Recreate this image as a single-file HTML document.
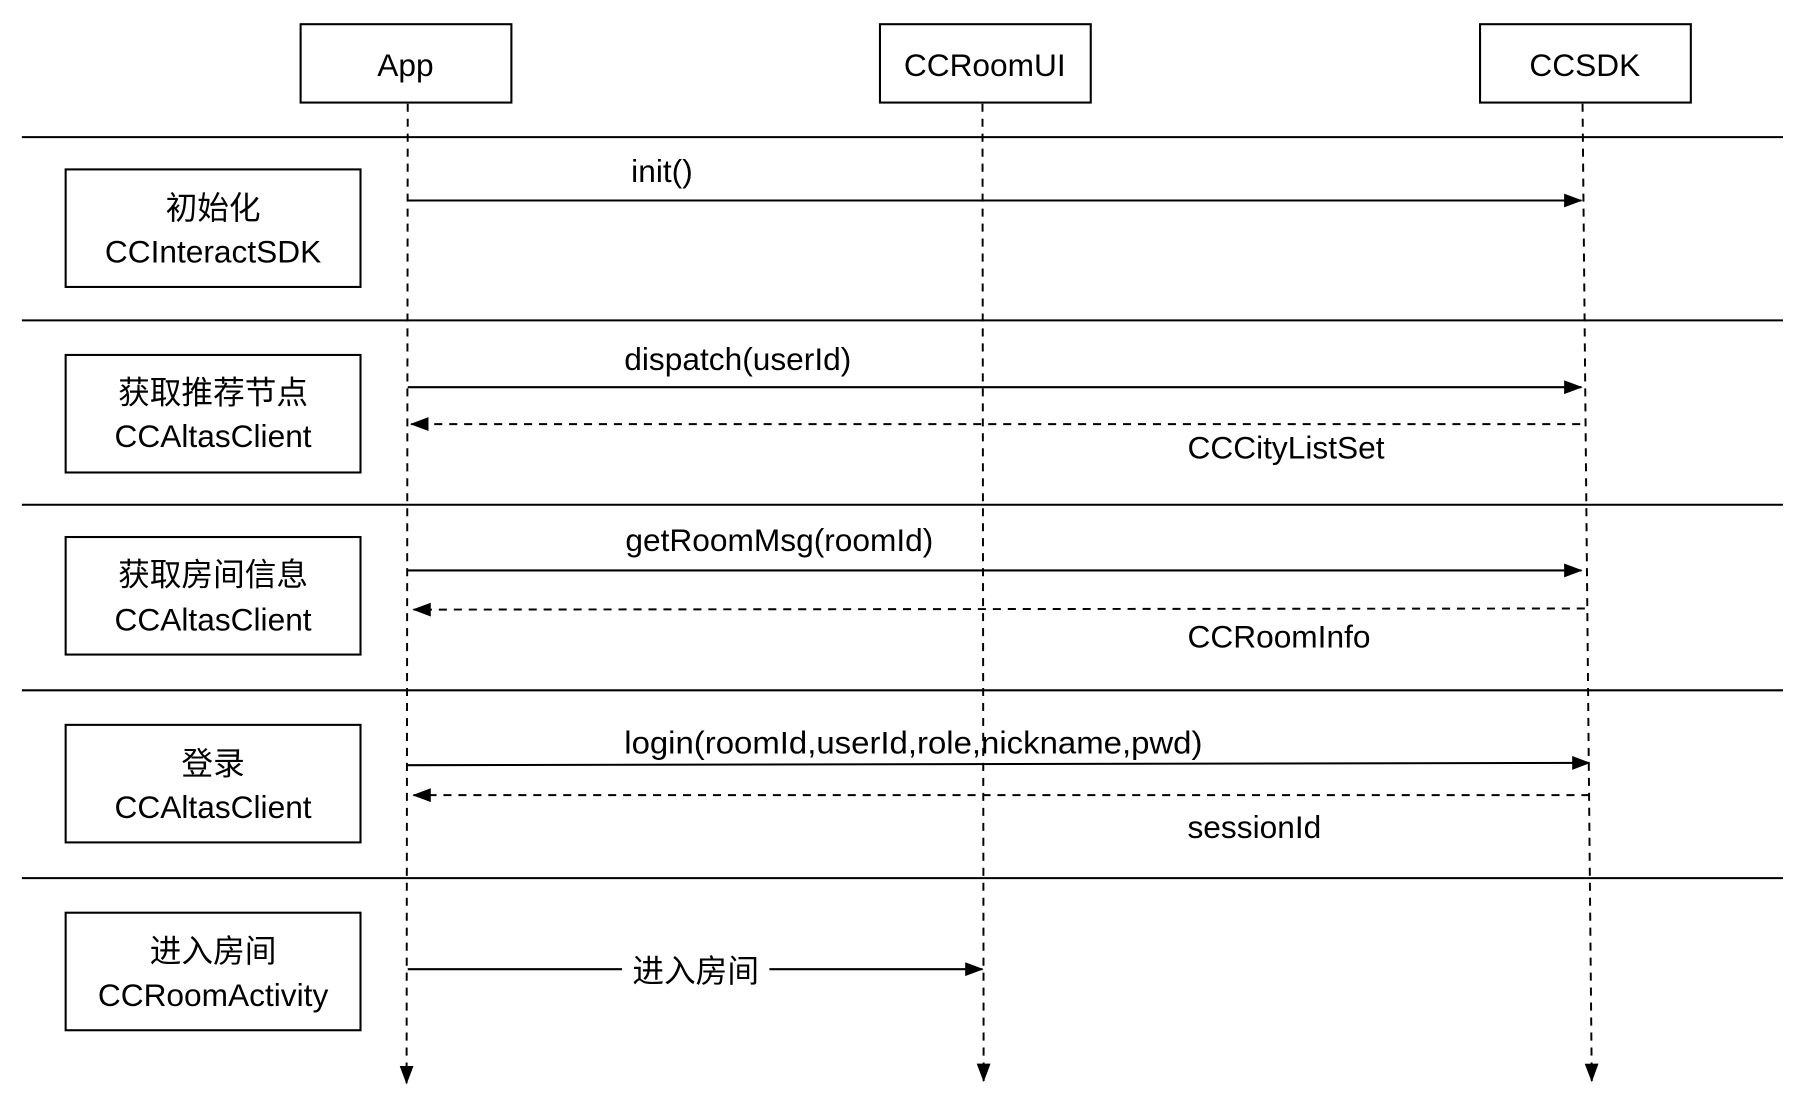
<!DOCTYPE html>
<html><head><meta charset="utf-8"><style>html,body{margin:0;padding:0;background:#fff}svg{display:block}</style></head>
<body>
<svg width="1806" height="1104" viewBox="0 0 1568 958" preserveAspectRatio="none" xmlns="http://www.w3.org/2000/svg" font-family="'Liberation Sans','Noto Sans CJK SC',sans-serif" font-size="27.5">
<defs>
<marker id="a" markerWidth="16" markerHeight="12" refX="15" refY="6" orient="auto" markerUnits="userSpaceOnUse"><path d="M0,0 L16,6 L0,12 Z" fill="#000"/></marker>
</defs>
<g fill="none" stroke="#000" stroke-width="1.8">
<rect x="261" y="21" width="183" height="68"/>
<rect x="764" y="21" width="183" height="68"/>
<rect x="1285" y="21" width="183" height="68"/>
<rect x="57" y="147" width="256" height="102"/>
<rect x="57" y="308" width="256" height="102"/>
<rect x="57" y="466" width="256" height="102"/>
<rect x="57" y="629" width="256" height="102"/>
<rect x="57" y="792" width="256" height="102"/>
<path d="M19 119H1548M19 278H1548M19 438H1548M19 599H1548M19 762H1548"/>
</g>
<g fill="none" stroke="#000" stroke-width="1.7" stroke-dasharray="7,6">
<path d="M354 90L353 940" marker-end="url(#a)"/>
<path d="M853 90L854 938" marker-end="url(#a)"/>
<path d="M1374 90L1382 938" marker-end="url(#a)"/>
<path d="M1372 368L357 368" marker-end="url(#a)"/>
<path d="M1376 528L359 529" marker-end="url(#a)"/>
<path d="M1380 690L359 690" marker-end="url(#a)"/>
</g>
<g fill="none" stroke="#000" stroke-width="1.8">
<path d="M354 174L1373 174" marker-end="url(#a)"/>
<path d="M354 336L1373 336" marker-end="url(#a)"/>
<path d="M354 495L1373 495" marker-end="url(#a)"/>
<path d="M354 664L1380 662" marker-end="url(#a)"/>
<path d="M354 841H540M668 841L853 841" marker-end="url(#a)"/>
</g>
<g fill="#000" text-anchor="middle">
<text x="352" y="66">App</text>
<text x="855" y="66">CCRoomUI</text>
<text x="1376" y="66">CCSDK</text>
<text x="185" y="190">初始化</text><text x="185" y="228">CCInteractSDK</text>
<text x="185" y="350">获取推荐节点</text><text x="185" y="388">CCAltasClient</text>
<text x="185" y="508">获取房间信息</text><text x="185" y="547">CCAltasClient</text>
<text x="185" y="672">登录</text><text x="185" y="710">CCAltasClient</text>
<text x="185" y="835">进入房间</text><text x="185" y="873">CCRoomActivity</text>
<text x="604" y="852">进入房间</text>
</g>
<g fill="#000">
<text x="548" y="158">init()</text>
<text x="542" y="321">dispatch(userId)</text>
<text x="1031" y="398">CCCityListSet</text>
<text x="543" y="478">getRoomMsg(roomId)</text>
<text x="1031" y="562">CCRoomInfo</text>
<text x="542" y="654" textLength="502" lengthAdjust="spacingAndGlyphs">login(roomId,userId,role,nickname,pwd)</text>
<text x="1031" y="727">sessionId</text>
</g>
</svg>
</body></html>
